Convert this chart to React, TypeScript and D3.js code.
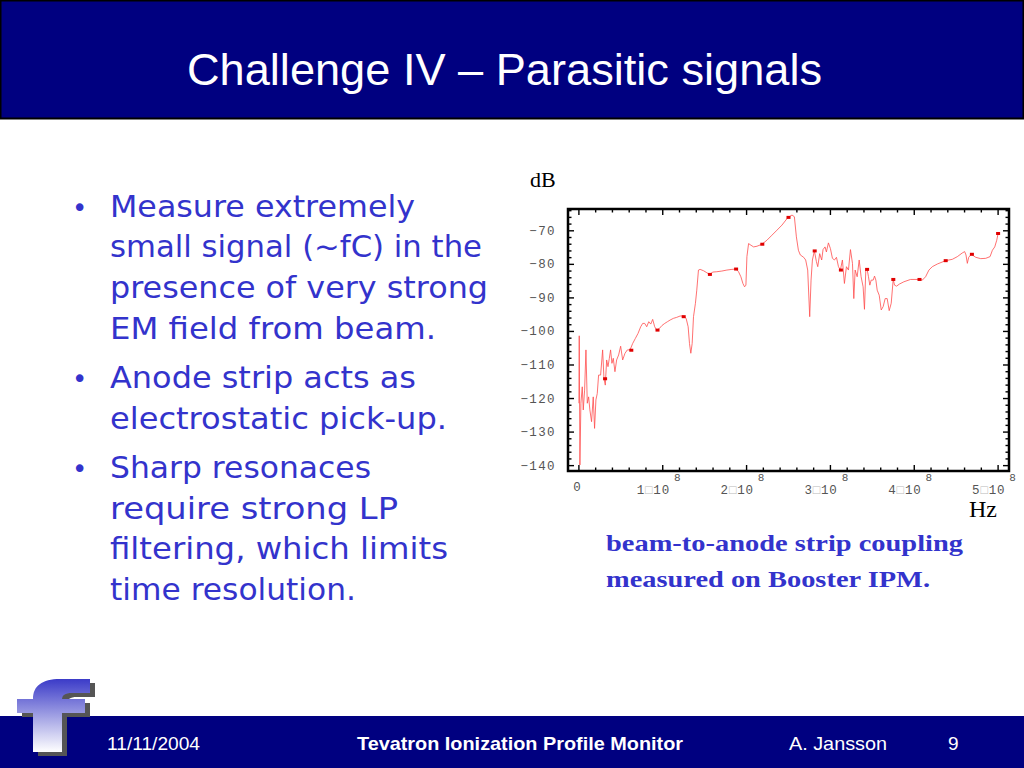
import React from "react";
import * as d3 from "d3";

// spectrum: frequency in MHz, level in dB
const freqMHz = [
  0, 0.4, 1.2, 2.4, 4.0, 5.2, 6.8, 8.4, 10.0, 11.6, 13.1, 15.1, 17.1, 18.7, 20.3, 21.9, 23.5, 25.9, 28.3, 29.9,
  31.5, 33.1, 34.7, 36.3, 37.8, 39.4, 41.0, 43.0, 45.0, 47.4, 49.8, 52.2, 55.0, 57.8, 61.0, 64.1, 67.3, 70.5,
  73.7, 76.1, 78.5, 80.9, 83.3, 85.7, 88.0, 90.4, 92.8, 96.0, 99.2, 102.4, 105.6, 108.8, 112.7, 116.7, 120.7,
  124.7, 127.9, 130.3, 131.9, 133.5, 135.1, 136.7, 139.0, 140.6, 142.6, 144.6, 148.6, 152.6, 155.8, 159.8,
  164.5, 170.5, 176.5, 182.5, 187.3, 190.4, 193.2, 195.6, 197.6, 199.2, 200.4, 202.4, 205.2, 208.4, 212.4,
  218.3, 224.3, 230.3, 236.3, 242.2, 249.4, 254.2, 257.0, 259.4, 261.8, 264.1, 268.1, 270.5, 272.9, 275.3,
  276.9, 278.5, 280.9, 283.3, 284.9, 287.2, 289.6, 291.2, 293.6, 295.2, 297.6, 300.0, 302.4, 304.8, 307.2,
  309.6, 311.9, 314.3, 316.7, 319.1, 321.5, 323.9, 326.3, 327.9, 329.5, 331.9, 334.3, 336.6, 339.0, 340.6,
  342.2, 343.8, 345.4, 347.0, 348.6, 351.0, 352.6, 354.2, 355.8, 358.2, 360.6, 362.9, 365.3, 367.7, 370.1,
  372.5, 374.9, 376.5, 378.9, 382.1, 387.6, 395.6, 405.6, 409.6, 413.5, 417.5, 421.5, 427.5, 437.4, 445.4,
  451.4, 457.3, 460.1, 461.7, 463.3, 464.9, 468.1, 473.3, 479.3, 485.3, 490.4, 493.2, 496.0, 498.4, 500.0,
];
const levelDb = [
  -121.4, -101.3, -139.8, -121.4, -116.5, -123.4, -117.5, -105.5, -121.4, -119.5, -123.4, -126.9, -119.5,
  -128.9, -120.4, -118.5, -113.0, -113.0, -105.5, -114.0, -116.0, -108.5, -110.5, -108.0, -105.5, -109.5,
  -108.0, -112.0, -108.5, -107.0, -104.4, -108.5, -106.5, -105.5, -105.5, -103.6, -102.1, -100.6, -98.6,
  -97.6, -97.6, -98.6, -97.1, -97.8, -96.4, -98.6, -99.6, -99.1, -98.2, -97.6, -97.1, -96.6, -96.1, -95.8,
  -95.4, -95.4, -96.1, -98.6, -103.6, -106.5, -103.6, -95.6, -91.6, -87.7, -81.7, -81.5, -81.9, -82.5,
  -83.0, -82.3, -82.2, -82.0, -81.7, -81.5, -81.4, -82.2, -83.7, -85.7, -86.7, -86.2, -77.7, -73.8, -74.3,
  -74.8, -74.6, -74.0, -72.8, -71.3, -69.8, -68.3, -66.0, -65.3, -65.8, -71.8, -75.8, -77.2, -77.9, -78.7,
  -81.7, -95.6, -84.7, -78.7, -76.0, -79.2, -80.7, -76.8, -78.7, -75.6, -74.8, -76.3, -73.6, -75.3, -78.2,
  -78.7, -77.9, -80.7, -81.7, -78.7, -85.7, -80.7, -81.7, -75.6, -79.7, -90.2, -81.7, -83.7, -78.7, -83.7,
  -86.7, -93.4, -81.7, -81.5, -83.7, -86.2, -84.7, -84.7, -83.5, -84.7, -87.7, -89.2, -93.6, -92.6, -90.2,
  -90.2, -93.8, -91.6, -84.5, -86.2, -86.5, -85.9, -85.2, -84.5, -84.5, -84.7, -83.7, -81.7, -80.7, -79.9,
  -78.9, -78.5, -77.7, -76.6, -76.2, -77.2, -79.7, -77.9, -77.0, -77.9, -78.3, -78.2, -77.7, -75.8, -74.8,
  -72.8, -70.8,
];

// sampled points drawn as little squares
const markerMHz = [31.25, 62.5, 93.75, 125, 156.25, 187.5, 218.75, 250, 281.25, 312.5, 343.75, 375, 406.25, 437.5, 468.75, 500];
const markerDb = [-114.1, -105.6, -99.6, -95.6, -83.0, -81.4, -74.0, -66.0, -76.0, -81.7, -81.5, -84.5, -84.5, -78.9, -77.0, -70.8];

const yTickValues = [-70, -80, -90, -100, -110, -120, -130, -140];
const xTickValues = [0, 100, 200, 300, 400, 500];
const xTickDigits = ["0", "1", "2", "3", "4", "5"];

const bulletLines = [
  ["Measure extremely", "small signal (~fC) in the", "presence of very strong", "EM field from beam."],
  ["Anode strip acts as", "electrostatic pick-up."],
  ["Sharp resonaces", "require strong LP", "filtering, which limits", "time resolution."],
];
const bulletWidths = [[305, 372, 378, 326], [306, 337], [261, 288, 338, 246]];

const NAVY = "#000080";
const BLUE = "#3333cc";

const App = () => {
  const frame = { left: 568, right: 1009, top: 209, bottom: 471 };
  const x = d3.scaleLinear().domain([-13, 513]).range([frame.left, frame.right]);
  const y = d3.scaleLinear().domain([-141.6, -63.5]).range([frame.bottom, frame.top]);

  const pts: [number, number][] = freqMHz.map((f, i) => [f, levelDb[i]]);
  const line = d3
    .line<[number, number]>()
    .x((d) => x(d[0]))
    .y((d) => y(d[1]));

  const xMinor = d3.range(0, 512, 20);
  const yMinor = d3.range(-140, -63, 2);

  // bullet baselines
  const baselines = [[217, 257, 298, 339], [388, 429], [478, 519, 559, 600]];

  const fPath =
    "M33,752 L33,713 L17,713 L17,699 L33,699 C33,686 42,679 60,679 L90,679 L90,693 L72,693 C65,693 62,695 62,700 L62,699 L85,699 L85,713 L62,713 L62,752 Z";

  return (
    <div style={{ position: "absolute", left: 0, top: 0 }}>
      <svg width={1024} height={768} style={{ display: "block" }}>
        <defs>
          <linearGradient id="fgrad" x1="0" y1="0" x2="0" y2="1">
            <stop offset="0" stopColor="#3b3bc8" />
            <stop offset="0.55" stopColor="#a9a9e6" />
            <stop offset="1" stopColor="#ffffff" />
          </linearGradient>
        </defs>
        <rect x={0} y={0} width={1024} height={768} fill="#fff" />

        {/* header */}
        <rect x={0.5} y={0.5} width={1023} height={118} fill={NAVY} stroke="#000" strokeWidth={2} />
        <text
          x={187}
          y={85}
          fill="#fff"
          fontFamily="'Liberation Sans', Arial, sans-serif"
          fontSize={44}
          textLength={635}
          lengthAdjust="spacingAndGlyphs"
        >
          Challenge IV – Parasitic signals
        </text>

        {/* bullets */}
        {bulletLines.map((group, gi) => (
          <g key={gi}>
            <text x={72} y={baselines[gi][0]} fill={BLUE} fontFamily="'DejaVu Sans', sans-serif" fontSize={26}>
              •
            </text>
            {group.map((t, li) => (
              <text
                key={li}
                x={110}
                y={baselines[gi][li]}
                fill={BLUE}
                fontFamily="'Comic Sans MS', 'DejaVu Sans', sans-serif"
                fontSize={30}
                textLength={bulletWidths[gi][li]}
                lengthAdjust="spacingAndGlyphs"
              >
                {t}
              </text>
            ))}
          </g>
        ))}

        {/* chart */}
        <text x={530} y={187} fontFamily="'Liberation Serif', 'Times New Roman', serif" fontSize={22} fill="#000">
          dB
        </text>
        <text x={969} y={517} fontFamily="'Liberation Serif', 'Times New Roman', serif" fontSize={24} fill="#000">
          Hz
        </text>

        <g stroke="#000" strokeWidth={1.4}>
          {xMinor.map((v) => {
            const major = v % 100 === 0;
            const len = major ? 6 : 3.5;
            return (
              <g key={"x" + v}>
                <line x1={x(v)} x2={x(v)} y1={frame.bottom} y2={frame.bottom - len} />
                <line x1={x(v)} x2={x(v)} y1={frame.top} y2={frame.top + len} />
              </g>
            );
          })}
          {yMinor.map((v) => {
            const major = v % 10 === 0;
            const len = major ? 6 : 3.5;
            return (
              <g key={"y" + v}>
                <line x1={frame.left} x2={frame.left + len} y1={y(v)} y2={y(v)} />
                <line x1={frame.right} x2={frame.right - len} y1={y(v)} y2={y(v)} />
              </g>
            );
          })}
        </g>

        <path d={line(pts) || ""} fill="none" stroke="#ff4d4d" strokeWidth={0.8} />
        {markerMHz.map((f, i) => (
          <rect key={i} x={x(f) - 2} y={y(markerDb[i]) - 1.5} width={4} height={3} fill="#e00000" />
        ))}

        <rect
          x={frame.left}
          y={frame.top}
          width={frame.right - frame.left}
          height={frame.bottom - frame.top}
          fill="none"
          stroke="#000"
          strokeWidth={2.5}
        />

        {yTickValues.map((v) => (
          <text
            key={v}
            x={556}
            y={y(v) + 4}
            textAnchor="end"
            fill="#555"
            fontFamily="'Liberation Mono', 'DejaVu Sans Mono', monospace"
            fontSize={12.5}
            letterSpacing={1.4}
          >
            {String(v).replace("-", "\u2212")}
          </text>
        ))}

        {xTickValues.map((v, i) =>
          v === 0 ? (
            <text
              key={v}
              x={x(v) - 2}
              y={491}
              textAnchor="middle"
              fill="#555"
              fontFamily="'Liberation Mono', 'DejaVu Sans Mono', monospace"
              fontSize={12.5}
            >
              0
            </text>
          ) : (
            <text
              key={v}
              x={x(v) - 26}
              y={494}
              fill="#555"
              fontFamily="'Liberation Mono', 'DejaVu Sans Mono', monospace"
              fontSize={12.5}
              letterSpacing={0.8}
            >
              <tspan>{xTickDigits[i]}</tspan>
              <tspan fill="#bbb">□</tspan>
              <tspan>10</tspan>
              <tspan dx={4} dy={-13} fontSize={11}>
                8
              </tspan>
            </text>
          )
        )}

        {/* caption */}
        <g fill={BLUE} fontFamily="'Liberation Serif', 'Times New Roman', serif" fontWeight="bold" fontSize={24}>
          <text x={606} y={551} textLength={357} lengthAdjust="spacingAndGlyphs">
            beam-to-anode strip coupling
          </text>
          <text x={606} y={587} textLength={324} lengthAdjust="spacingAndGlyphs">
            measured on Booster IPM.
          </text>
        </g>

        {/* footer */}
        <rect x={0} y={716} width={1024} height={52} fill={NAVY} />
        <g fill="#fff" fontFamily="'Liberation Sans', Arial, sans-serif" fontSize={19}>
          <text x={107} y={750} textLength={93} lengthAdjust="spacingAndGlyphs">
            11/11/2004
          </text>
          <text x={357} y={750} fontWeight="bold" textLength={326} lengthAdjust="spacingAndGlyphs">
            Tevatron Ionization Profile Monitor
          </text>
          <text x={789} y={750} textLength={98} lengthAdjust="spacingAndGlyphs">
            A. Jansson
          </text>
          <text x={948} y={750}>
            9
          </text>
        </g>

        {/* logo */}
        <path d={fPath} fill="#555" transform="translate(5,4)" />
        <path d={fPath} fill="url(#fgrad)" />
      </svg>
    </div>
  );
};

export default App;
